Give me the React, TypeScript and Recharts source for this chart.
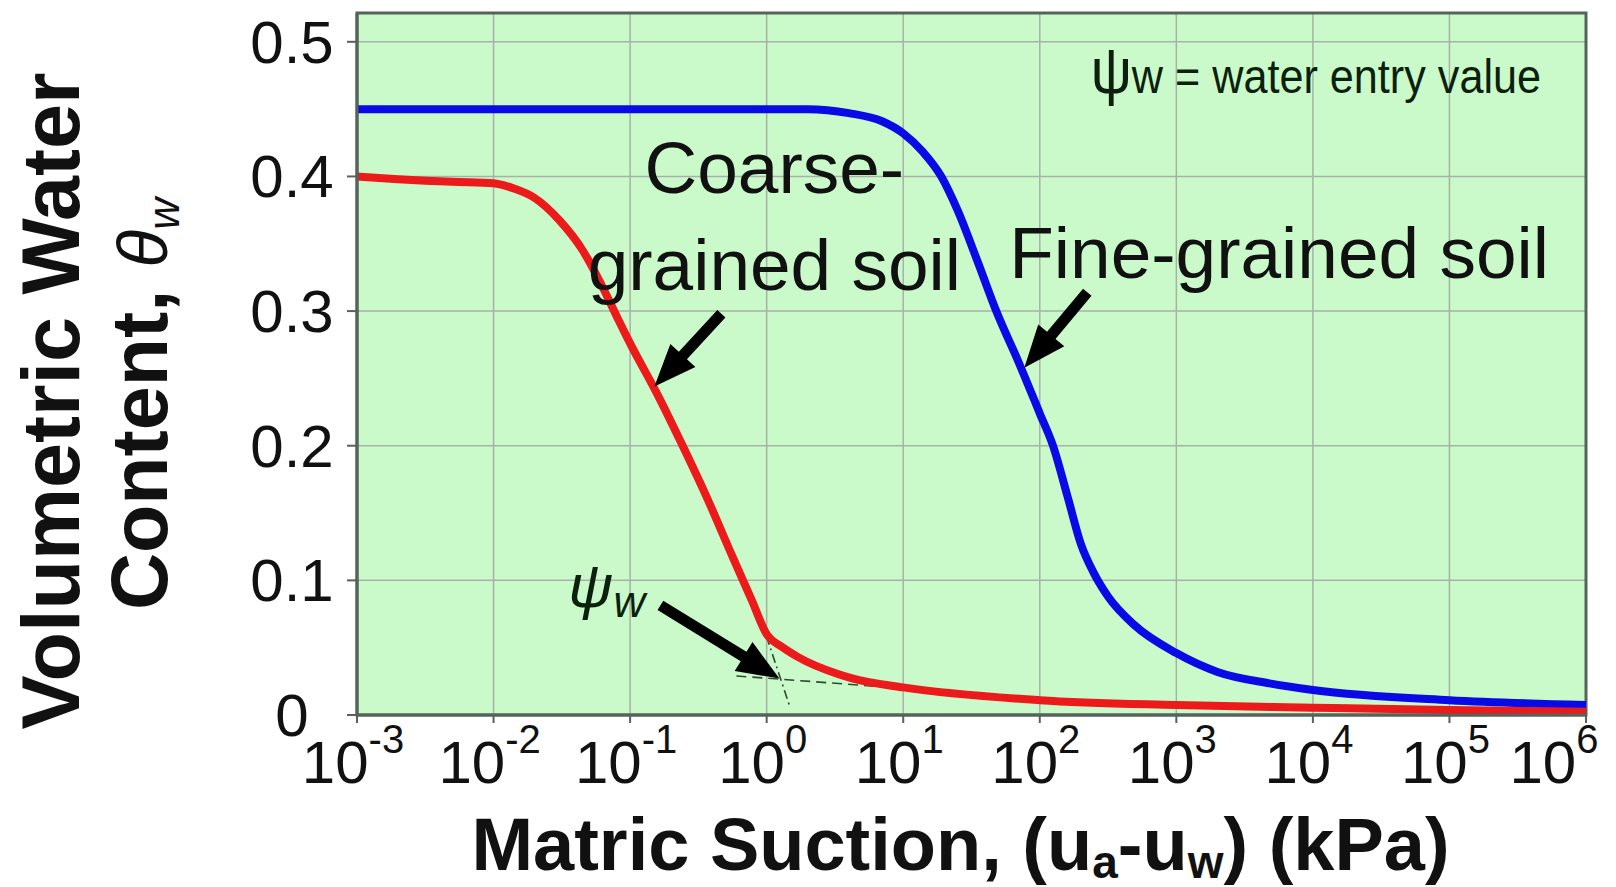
import React from 'react';
import {
  ComposedChart,
  Line,
  XAxis,
  YAxis,
  CartesianGrid,
  ReferenceLine,
  ReferenceDot,
  ReferenceArea,
} from 'recharts';

// coarse-grained soil (red)
const suctionCoarse = [0.001, 0.002, 0.005, 0.01, 0.0141, 0.02, 0.03, 0.045, 0.06, 0.079, 0.1, 0.155, 0.245, 0.363, 0.56, 0.78, 1.0, 1.3, 1.7, 3.2, 4.3, 10, 100, 1000, 1e4, 1e5, 1e6];
const thetaCoarse = [0.4, 0.398, 0.396, 0.395, 0.391, 0.384, 0.368, 0.345, 0.322, 0.297, 0.276, 0.24, 0.199, 0.162, 0.118, 0.085, 0.06, 0.0505, 0.043, 0.031, 0.027, 0.0205, 0.011, 0.0074, 0.0054, 0.0037, 0.0025];

// fine-grained soil (blue)
const suctionFine = [0.001, 2, 4, 7, 10, 14, 19, 25, 35, 48, 70, 100, 125, 160, 200, 250, 316, 490, 1000, 2000, 4800, 1e4, 1e5, 1e6];
const thetaFine = [0.45, 0.45, 0.447, 0.441, 0.432, 0.418, 0.4, 0.375, 0.337, 0.3, 0.262, 0.224, 0.2, 0.162, 0.127, 0.105, 0.088, 0.067, 0.046, 0.032, 0.0235, 0.0186, 0.011, 0.0074];

// construction lines for the water entry value
const tangentSteepSuction = [0.9, 1.48];
const tangentSteepTheta = [0.072, 0.006];
const tangentFlatSuction = [0.6, 15];
const tangentFlatTheta = [0.029, 0.0185];

const xTicks = [1e-3, 1e-2, 1e-1, 1, 10, 100, 1e3, 1e4, 1e5, 1e6];
const yTicks = [0, 0.1, 0.2, 0.3, 0.4, 0.5];
const yMinorTicks = [0, 0.02, 0.04, 0.06, 0.08, 0.1, 0.12, 0.14, 0.16, 0.18, 0.2, 0.22, 0.24, 0.26, 0.28, 0.3, 0.32, 0.34, 0.36, 0.38, 0.4, 0.42, 0.44, 0.46, 0.48, 0.5, 0.52];

// annotation arrows: tail -> tip, in data units
const arrowTails = [[0.466, 0.298], [222.8, 0.314], [0.1667, 0.0814]];
const arrowTips = [[0.1507, 0.244], [77.1, 0.258], [1.239, 0.0271]];

const X_DOMAIN = [0.001, 1e6];
const Y_DOMAIN = [0, 0.5214];
const FONT = '"Liberation Sans", Arial, Helvetica, sans-serif';
const AXIS = '#56625a';
const GRID = '#a6b2a6';
const INK = '#111';

const toRows = (xs: number[], ys: number[]) => xs.map((s, i) => ({ suction: s, theta: ys[i] }));

const coarse = toRows(suctionCoarse, thetaCoarse);
const fine = toRows(suctionFine, thetaFine);
const tangentSteep = toRows(tangentSteepSuction, tangentSteepTheta);
const tangentFlat = toRows(tangentFlatSuction, tangentFlatTheta);

const XTick = ({ x, y, payload, index }: any) => {
  const e = Math.round(Math.log10(payload.value));
  // the last label is pulled inside the figure, like the original
  const shift = index === xTicks.length - 1 ? -32 : -4;
  return (
    <text x={x + shift} y={y + 58} textAnchor="middle" fontSize={60} fontFamily={FONT} fill={INK}>
      10<tspan dy={-30} fontSize={40}>{String(e)}</tspan>
    </text>
  );
};

const YTick = ({ x, y, payload }: any) => (
  <text x={x - 53} y={y + 21} textAnchor="middle" fontSize={60} fontFamily={FONT} fill={INK}>
    {String(payload.value)}
  </text>
);

const YTitle = ({ viewBox }: any) => {
  const { x, y, height } = viewBox;
  const cy = y + height / 2 + 37;
  const x1 = x + 79;
  const x2 = x + 167;
  return (
    <g fontFamily={FONT} fill={INK}>
      <text transform={`rotate(-90 ${x1} ${cy})`} x={x1} y={cy} textAnchor="middle" fontSize={81} fontWeight="bold">
        Volumetric Water
      </text>
      <text transform={`rotate(-90 ${x2} ${cy + 3})`} x={x2} y={cy + 3} textAnchor="middle" fontSize={79} fontWeight="bold">
        Content,{' '}
        <tspan fontStyle="italic" fontWeight="normal" fontSize={70}>θ</tspan>
        <tspan fontStyle="italic" fontWeight="normal" fontSize={44} dy={12}>w</tspan>
      </text>
    </g>
  );
};

const XTitle = ({ viewBox }: any) => {
  const { x, y, width } = viewBox;
  return (
    <text x={x + width / 2 - 11} y={y + 155} textAnchor="middle" fontSize={74} fontWeight="bold" fontFamily={FONT} fill={INK}>
      Matric Suction, (u<tspan fontSize={46} dy={8}>a</tspan>
      <tspan dy={-8}>-u</tspan>
      <tspan fontSize={46} dy={8}>w</tspan>
      <tspan dy={-8}>) (kPa)</tspan>
    </text>
  );
};

const arrowShape = (p: any) => {
  const { x1, y1, x2, y2 } = p;
  const dx = x2 - x1;
  const dy = y2 - y1;
  const len = Math.hypot(dx, dy) || 1;
  const ux = dx / len;
  const uy = dy / len;
  const nx = -uy;
  const ny = ux;
  const headLen = 42;
  const headW = 17;
  const shaftW = 5.5;
  const bx = x2 - ux * headLen;
  const by = y2 - uy * headLen;
  const pts = [
    [x1 + nx * shaftW, y1 + ny * shaftW],
    [bx + nx * shaftW, by + ny * shaftW],
    [bx + nx * headW, by + ny * headW],
    [x2, y2],
    [bx - nx * headW, by - ny * headW],
    [bx - nx * shaftW, by - ny * shaftW],
    [x1 - nx * shaftW, y1 - ny * shaftW],
  ];
  return <polygon points={pts.map((q) => q.join(',')).join(' ')} fill="#000" />;
};

const textAt = (content: React.ReactNode, anchor: string, size: number, extra: any = {}) => (p: any) => (
  <text x={p.cx} y={p.cy} textAnchor={anchor} fontSize={size} fontFamily={FONT} fill={INK} {...extra}>
    {content}
  </text>
);

const legendNote = (p: any) => (
  <g transform={`translate(${p.cx},${p.cy}) scale(0.9,1)`}>
    <text x={0} y={0} textAnchor="end" fontSize={48} fontFamily={FONT} fill="#0d1f0d">
      <tspan fontSize={64}>ψ</tspan>w = water entry value
    </text>
  </g>
);

export default function App() {
  return (
    <div style={{ position: 'absolute', left: 0, top: 0, background: '#fff' }}>
      <ComposedChart width={1616} height={887} margin={{ top: 13, right: 30, bottom: 0, left: 0 }}>
        <CartesianGrid fill="#cafaca" stroke={GRID} strokeWidth={1.5} />
        <XAxis
          dataKey="suction"
          type="number"
          scale="log"
          domain={X_DOMAIN}
          ticks={xTicks}
          interval={0}
          allowDataOverflow
          height={172}
          tickSize={8}
          tick={XTick}
          axisLine={{ stroke: AXIS, strokeWidth: 3 }}
          tickLine={{ stroke: AXIS, strokeWidth: 2 }}
          label={XTitle}
        />
        <YAxis
          type="number"
          domain={Y_DOMAIN}
          ticks={yTicks}
          interval={0}
          allowDataOverflow
          width={357}
          tickSize={10}
          tick={YTick}
          axisLine={{ stroke: AXIS, strokeWidth: 3 }}
          tickLine={{ stroke: AXIS, strokeWidth: 2 }}
          label={YTitle}
        />
        <YAxis
          yAxisId="minorL"
          orientation="left"
          mirror
          type="number"
          domain={Y_DOMAIN}
          ticks={yMinorTicks}
          interval={0}
          allowDataOverflow
          width={2}
          tickSize={6}
          tick={false}
          axisLine={false}
          tickLine={{ stroke: AXIS, strokeWidth: 2 }}
        />
        <YAxis
          yAxisId="minorR"
          orientation="right"
          mirror
          type="number"
          domain={Y_DOMAIN}
          ticks={yMinorTicks}
          interval={0}
          allowDataOverflow
          width={2}
          tickSize={8}
          tick={false}
          axisLine={false}
          tickLine={{ stroke: AXIS, strokeWidth: 2 }}
        />
        <Line data={tangentFlat} dataKey="theta" type="linear" stroke="#2f4a2f" strokeWidth={1.6} strokeDasharray="10 6" dot={false} activeDot={false} isAnimationActive={false} />
        <Line data={tangentSteep} dataKey="theta" type="linear" stroke="#2f4a2f" strokeWidth={1.6} strokeDasharray="9 4 2 4" dot={false} activeDot={false} isAnimationActive={false} />
        <Line data={fine} dataKey="theta" type="monotone" stroke="#0a0ae6" strokeWidth={8} dot={false} activeDot={false} isAnimationActive={false} />
        <Line data={coarse} dataKey="theta" type="monotone" stroke="#ec1a1a" strokeWidth={8} dot={false} activeDot={false} isAnimationActive={false} />
        <ReferenceArea x1={X_DOMAIN[0]} x2={X_DOMAIN[1]} y1={Y_DOMAIN[0]} y2={Y_DOMAIN[1]} fill="none" stroke={AXIS} strokeWidth={3} ifOverflow="visible" />
        {arrowTails.map((t, i) => (
          <ReferenceLine
            key={`arrow-${i}`}
            segment={[{ x: t[0], y: t[1] }, { x: arrowTips[i][0], y: arrowTips[i][1] }]}
            ifOverflow="visible"
            shape={arrowShape}
          />
        ))}
        <ReferenceDot x={1.138} y={0.3875} r={1} ifOverflow="visible" shape={textAt('Coarse-', 'middle', 73)} />
        <ReferenceDot x={1.138} y={0.3154} r={1} ifOverflow="visible" shape={textAt('grained soil', 'middle', 73)} />
        <ReferenceDot x={59.8} y={0.3243} r={1} ifOverflow="visible" shape={textAt('Fine-grained soil', 'start', 73)} />
        <ReferenceDot x={469000} y={0.4618} r={1} ifOverflow="visible" shape={legendNote} />
        <ReferenceDot
          x={0.0353}
          y={0.0799}
          r={1}
          ifOverflow="visible"
          shape={textAt(
            <>
              ψ<tspan fontSize={44} dy={10}>w</tspan>
            </>,
            'start',
            62,
            { fontStyle: 'italic', fill: '#0d1f0d' }
          )}
        />
      </ComposedChart>
    </div>
  );
}
